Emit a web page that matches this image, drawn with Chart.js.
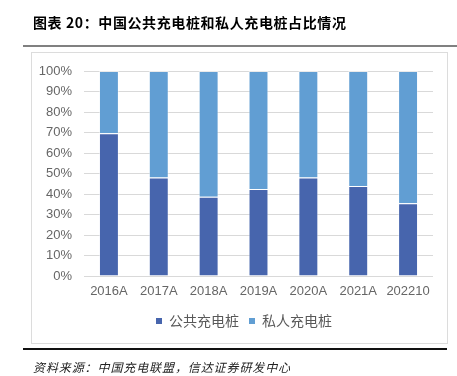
<!DOCTYPE html>
<html>
<head>
<meta charset="utf-8">
<script src="https://cdn.jsdelivr.net/npm/chart.js@4.4.0/dist/chart.umd.min.js"></script>
<style>
    html, body { margin: 0; padding: 0; background: #fff; }
    #page { position: relative; width: 457px; height: 376px; overflow: hidden; }
    #chart { position: absolute; left: 0; top: 0; }
    .title {
        position: absolute; left: 33px; top: 12px;
        font-family: "Noto Sans CJK SC", sans-serif; font-weight: bold;
        font-size: 14px; letter-spacing: 0.6px; color: #000; white-space: nowrap;
    }
    .rule-top { position: absolute; left: 23px; top: 45px; width: 434px; height: 2px; background: #808080; }
    .box { position: absolute; left: 31px; top: 52px; width: 415px; height: 290px; border: 1px solid #dcdcdc; }
    .rule-bottom { position: absolute; left: 23px; top: 348px; width: 424px; height: 1.5px; background: #111; }
    .source {
        position: absolute; left: 33px; top: 358px;
        font-family: "Noto Sans CJK SC", sans-serif; font-style: italic;
        font-size: 12px; letter-spacing: 0.9px; color: #222; white-space: nowrap;
    }
</style>
</head>
<body>
<div id="page">
    <div class="box"></div>
    <canvas id="chart" width="457" height="376"></canvas>
    <div class="title">图表 20：中国公共充电桩和私人充电桩占比情况</div>
    <div class="rule-top"></div>
    <div class="rule-bottom"></div>
    <div class="source">资料来源：中国充电联盟，信达证券研发中心</div>
</div>
<script>
    // categories and shares (%)
    const years = ['2016A', '2017A', '2018A', '2019A', '2020A', '2021A', '202210'];
    const publicShare = [69.6, 48.0, 38.7, 42.4, 48.0, 43.9, 35.5];
    const privateShare = [30.4, 52.0, 61.3, 57.6, 52.0, 56.1, 64.5];
    const seriesNames = ['公共充电桩', '私人充电桩'];

    const tickFont = { family: '"Liberation Sans", Arial, sans-serif', size: 13 };

    // nudge the legend right so it sits where the original one does
    const legendShift = {
        id: 'legendShift',
        afterLayout(chart) {
            if (chart.legend) {
                chart.legend.left += 12;
                chart.legend.right += 12;
            }
        }
    };

    const ctx = document.getElementById('chart').getContext('2d');
    new Chart(ctx, {
        type: 'bar',
        data: {
            labels: years,
            datasets: [{
                label: seriesNames[0],
                data: publicShare,
                backgroundColor: '#4765ad',
                borderColor: 'rgba(255, 255, 255, 0.45)',
                borderWidth: 1,
                barPercentage: 0.4,
                categoryPercentage: 1
            }, {
                label: seriesNames[1],
                data: privateShare,
                backgroundColor: '#619ed3',
                borderColor: 'rgba(255, 255, 255, 0.45)',
                borderWidth: 1,
                barPercentage: 0.4,
                categoryPercentage: 1
            }]
        },
        options: {
            responsive: false,
            animation: false,
            devicePixelRatio: 1,
            layout: {
                padding: { left: 31, right: 24, top: 71, bottom: 38 }
            },
            plugins: {
                tooltip: { enabled: false },
                legend: {
                    position: 'bottom',
                    labels: {
                        boxWidth: 6,
                        boxHeight: 6,
                        padding: 10,
                        color: '#595959',
                        font: { family: '"Noto Sans CJK SC", sans-serif', size: 14 },
                        generateLabels: function (chart) {
                            const items = Chart.defaults.plugins.legend.labels.generateLabels(chart);
                            items.forEach(item => { item.lineWidth = 0; });
                            return items;
                        }
                    }
                }
            },
            scales: {
                x: {
                    stacked: true,
                    grid: { display: false, drawTicks: false },
                    border: { display: false },
                    ticks: { color: '#666', font: tickFont, padding: 8 },
                    afterFit: function (scale) { scale.height = 28; }
                },
                y: {
                    stacked: true,
                    min: 0,
                    max: 100,
                    grid: { color: '#d9d9d9', drawTicks: false },
                    border: { display: false },
                    ticks: {
                        stepSize: 10,
                        color: '#666',
                        font: tickFont,
                        padding: 12,
                        callback: value => value + '%'
                    },
                    afterFit: function (scale) { scale.width = 53; }
                }
            }
        },
        plugins: [legendShift]
    });
</script>
</body>
</html>
